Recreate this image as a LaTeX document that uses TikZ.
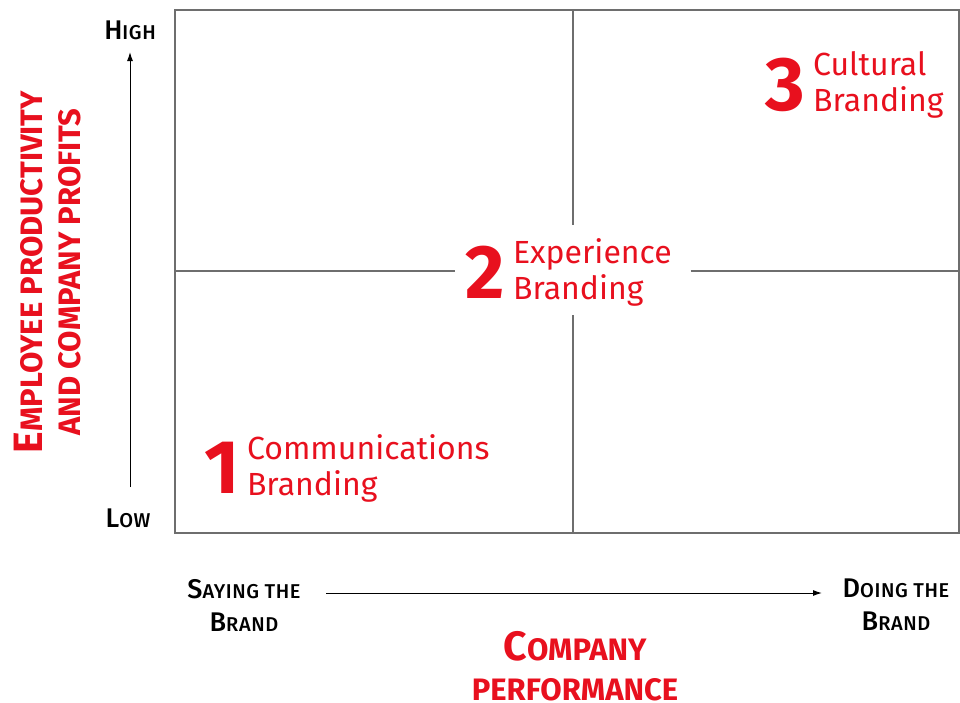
\documentclass[tikz,border=0pt]{standalone}
\usepackage{fontspec}
\setmainfont{Fira Sans}
\newfontfamily\boldface{Fira Sans}[UprightFont=* Bold]
\newfontfamily\mediumface{Fira Sans}[UprightFont=* Medium, LetterSpace=3]
\usetikzlibrary{positioning,arrows.meta}
\definecolor{brandred}{HTML}{E8101E}
\definecolor{gridgray}{HTML}{6E6E6E}
% first letter large, the rest as small capitals
\newcommand{\capsc}[4]{{\fontsize{#1}{#1}\selectfont#3}{\fontsize{#2}{#2}\selectfont#4}}

\tikzset{
  axistext/.style={text=black, align=center, inner sep=0pt, font=\mediumface\fontsize{20}{33}\selectfont},
  redtitle/.style={text=brandred, align=center, inner sep=0pt, font=\boldface\fontsize{31}{38}\selectfont},
  digit/.style={text=brandred, inner sep=0pt, font=\boldface\fontsize{76}{76}\selectfont},
  qtext/.style={text=brandred, align=left, inner sep=0pt, font=\fontsize{32}{36}\selectfont},
  gridline/.style={draw=gridgray, line width=1.3pt},
  axisarrow/.style={line width=1pt, -{Latex[length=9pt,width=6pt]}}
}

\begin{document}
\begin{tikzpicture}[x=1pt,y=-1pt]
  \useasboundingbox (0,0) rectangle (960,702);

  % quadrant frame
  \draw[gridline] (175,10) rectangle (959,533);
  \coordinate (midtop) at (573,10);
  \coordinate (midbot) at (573,533);
  \coordinate (midleft) at (175,271);
  \coordinate (midright) at (959,271);
  \path node[minimum width=235pt, minimum height=90pt, inner sep=0pt] (gap) at (573,270) {};
  \draw[gridline] (midtop) -- (gap.north -| midtop);
  \draw[gridline] (gap.south -| midbot) -- (midbot);
  \draw[gridline] (midleft) -- (gap.west |- midleft);
  \draw[gridline] (gap.east |- midright) -- (midright);

  % vertical axis
  \node[axistext] (high) at (130,30) {\capsc{27}{20}{H}{IGH}};
  \node[axistext] (low) at (128,518) {\capsc{27}{20}{L}{OW}};
  \draw[axisarrow] (130,487) -- (high.south |- 0,52);
  \node[redtitle, rotate=90] (ytitle) at (48,272)
    {\capsc{41}{31}{E}{MPLOYEE PRODUCTIVITY}\\\capsc{41}{31}{}{AND COMPANY PROFITS}};

  % horizontal axis
  \node[axistext] (saying) at (244,605) {\capsc{27}{20}{S}{AYING THE}\\\capsc{27}{20}{B}{RAND}};
  \node[axistext] (doing) at (896,605) {\capsc{27}{20}{D}{OING THE}\\\capsc{27}{20}{B}{RAND}};
  \coordinate (xstart) at (326,593);
  \coordinate (xend) at (822,593);
  \draw[axisarrow] (xstart) -- (xend);
  \node[redtitle, font=\boldface\fontsize{31}{40}\selectfont] (xtitle) at (575,666)
    {\capsc{41}{31}{C}{OMPANY}\\\capsc{41}{31}{}{PERFORMANCE}};

  % quadrant labels
  \node[digit] (one) at (222,468) {1};
  \node[qtext, right=7pt of one] (comm) {Communications\\Branding};
  \node[digit] (two) at (485,272) {2};
  \node[qtext, right=8pt of two] (exp) {Experience\\Branding};
  \node[digit] (three) at (785,85) {3};
  \node[qtext, right=8pt of three] (cult) {Cultural\\Branding};
\end{tikzpicture}
\end{document}
